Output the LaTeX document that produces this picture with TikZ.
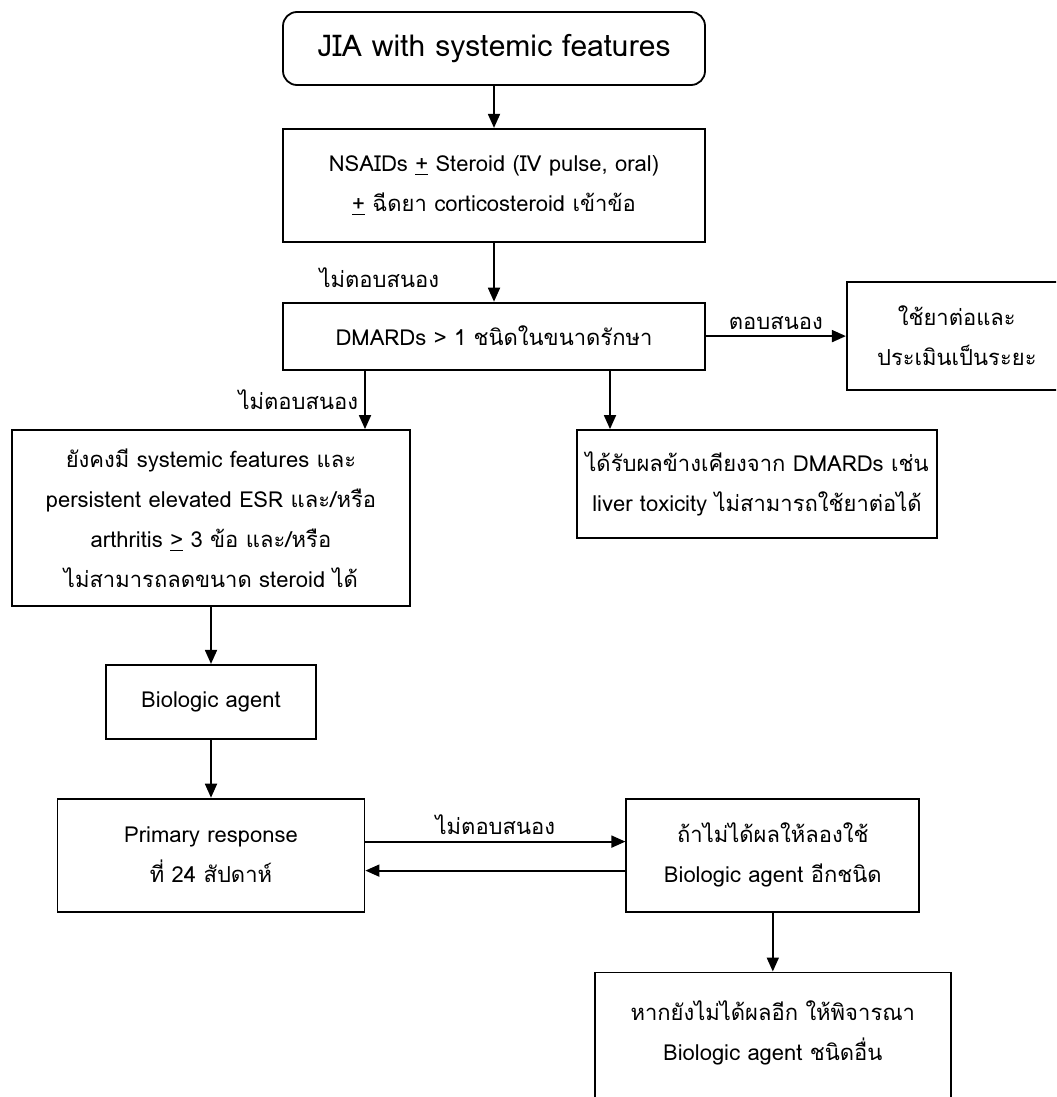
\documentclass[tikz,border=0pt]{standalone}
\usepackage{fontspec}
\setmainfont{Loma}[Script=Thai]
\usetikzlibrary{positioning, arrows.meta}

\begin{document}
\begin{tikzpicture}[
    x=0.5pt, y=-0.5pt,
    font=\fontsize{11}{20}\selectfont,
    flowbox/.style={rectangle, draw, line width=0.9pt, align=center, inner sep=0pt},
    startbox/.style={flowbox, rounded corners=7pt},
    flow/.style={-{Triangle[length=7pt, width=6pt]}, line width=0.9pt},
    answer/.style={inner sep=3pt}
]
\clip (0,0) rectangle (1056,1097);

% Start
\node[startbox, minimum width=211pt, minimum height=36.5pt, font=\fontsize{15}{17}\selectfont] (jia) at (494,48.5) {JIA with systemic features};

% First line and DMARDs
\node[flowbox, minimum width=211pt, minimum height=56.5pt, below=21pt of jia] (nsaid) {NSAIDs \underline{+} Steroid (IV pulse, oral)\\ \underline{+} ฉีดยา corticosteroid เข้าข้อ};
\node[flowbox, minimum width=211pt, minimum height=33.5pt, below=29.5pt of nsaid] (dmard) {DMARDs > 1 ชนิดในขนาดรักษา};
\node[flowbox, minimum width=110pt, minimum height=54pt, right=70pt of dmard] (cont) {ใช้ยาต่อและ\\ ประเมินเป็นระยะ};

% Outcomes of DMARDs
\node[flowbox, minimum width=199pt, minimum height=88pt] (persist) at (211,518) {ยังคงมี systemic features และ\\ persistent elevated ESR และ/หรือ\\ arthritis \underline{>} 3 ข้อ และ/หรือ\\ ไม่สามารถลดขนาด steroid ได้};
\node[flowbox, minimum width=180pt, minimum height=54pt] (tox) at (757,484) {ได้รับผลข้างเคียงจาก DMARDs เช่น\\ liver toxicity ไม่สามารถใช้ยาต่อได้};

% Biologic agents
\node[flowbox, minimum width=105pt, minimum height=37pt, below=28.5pt of persist] (bio) {Biologic agent};
\node[flowbox, minimum width=153.5pt, minimum height=56.5pt, below=29pt of bio] (prim) {Primary response\\ ที่ 24 สัปดาห์};
\node[flowbox, minimum width=146.5pt, minimum height=56.5pt, right=130pt of prim] (retry) {ถ้าไม่ได้ผลให้ลองใช้\\ Biologic agent อีกชนิด};
\node[flowbox, minimum width=178pt, minimum height=78pt, below=29.5pt of retry] (other) {หากยังไม่ได้ผลอีก ให้พิจารณา\\ Biologic agent ชนิดอื่น\\ \mbox{}};

% Connection points
\coordinate (d1) at ([xshift=-64.5pt]dmard.south);
\coordinate (d2) at ([xshift=58pt]dmard.south);
\coordinate (p1) at ([yshift=6.75pt]prim.east);
\coordinate (p2) at ([yshift=-7.75pt]prim.east);

% Edges and annotations
\draw[flow] (jia) -- (nsaid);
\draw[flow] (nsaid) -- node[answer, pos=0.6, left, xshift=-24pt] {ไม่ตอบสนอง} (dmard);
\draw[flow] (dmard) -- node[answer, above] {ตอบสนอง} (cont);
\draw[flow] (d1) -- node[answer, left] {ไม่ตอบสนอง} (d1 |- persist.north);
\draw[flow] (d2) -- (d2 |- tox.north);
\draw[flow] (persist) -- (bio);
\draw[flow] (bio) -- (prim);
\draw[flow] (p1) -- node[answer, above] {ไม่ตอบสนอง} (p1 -| retry.west);
\draw[flow] (p2 -| retry.west) -- (p2);
\draw[flow] (retry) -- (other);

\end{tikzpicture}
\end{document}
